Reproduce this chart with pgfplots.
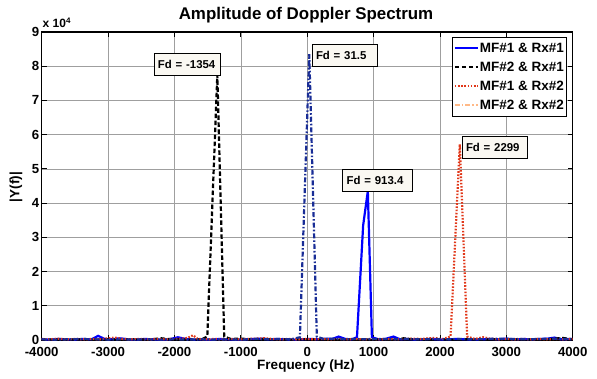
\documentclass[border=0pt]{standalone}
\usepackage{fontspec}
\setmainfont{Liberation Sans}
\usepackage{pgfplots}
\pgfplotsset{compat=1.18}
\definecolor{cblue}{RGB}{0,0,255}
\definecolor{cred}{RGB}{225,55,25}
\definecolor{cnavy}{RGB}{25,45,150}
\definecolor{corange}{RGB}{255,185,135}
\definecolor{tipfill}{RGB}{250,248,242}
\begin{document}
\begin{tikzpicture}
\path[use as bounding box] (-41.7pt,-38pt) rectangle (555.3pt,340pt);
\begin{axis}[
  at={(0pt,0pt)}, anchor=south west,
  scale only axis, width=531pt, height=308pt,
  xmin=-4000, xmax=4000, ymin=0, ymax=9,
  xtick={-4000,-3000,...,4000}, ytick={0,1,...,9},
  /pgf/number format/assume math mode=true,
  /pgf/number format/1000 sep={},
  ticklabel style={font=\bfseries\fontsize{13.2}{15}\selectfont},
  yticklabel style={inner sep=0pt, xshift=-2.2pt},
  xticklabel style={inner sep=0pt, yshift=-7pt},
  tick align=inside, major tick length=5pt,
  tick style={black, line width=0.8pt},
  axis line style={black, line width=1.2pt},
  grid=major, major grid style={gray!75, line width=0.6pt},
  clip=true,
  legend cell align=left,
  legend style={at={(0.989,0.984)}, anchor=north east, draw=black, line width=0.9pt,
    font=\bfseries\fontsize{13.5}{15}\selectfont, inner xsep=1.5pt, inner ysep=1.5pt,
    row sep=0pt, nodes={inner xsep=1pt, inner ysep=4pt}},
  legend image code/.code={\draw[#1] (0pt,0pt) -- (23pt,0pt);},
]
\addlegendimage{cblue, solid, line width=2.2pt}
\addlegendentry{MF\#1 \& Rx\#1}
\addlegendimage{black, dash pattern=on 4.5pt off 2.5pt, line width=2.2pt}
\addlegendentry{MF\#2 \& Rx\#1}
\addlegendimage{cred, dash pattern=on 1.6pt off 1.6pt, line width=2.2pt}
\addlegendentry{MF\#1 \& Rx\#2}
\addlegendimage{corange, dash pattern=on 5pt off 2pt on 1.6pt off 2pt, line width=2.2pt}
\addlegendentry{MF\#2 \& Rx\#2}

% MF#1 & Rx#1
\addplot[cblue, solid, line width=2.2pt, forget plot] coordinates {
(-4000,0.02)(-3875,0.01)(-3750,0.03)(-3625,0.02)(-3500,0.01)(-3375,0.03)(-3250,0.02)(-3150,0.12)(-3050,0.03)(-2950,0.02)(-2825,0.05)(-2700,0.02)(-2575,0.01)(-2450,0.03)(-2325,0.02)(-2200,0.01)(-2075,0.02)(-1950,0.08)(-1825,0.03)(-1700,0.01)(-1575,0.02)(-1450,0.01)(-1325,0.03)(-1200,0.02)(-1075,0.01)(-950,0.02)(-825,0.03)(-700,0.04)(-575,0.02)(-450,0.03)(-325,0.02)(-200,0.01)(-75,0.02)(50,0.03)(175,0.02)(300,0.04)(375,0.03)(475,0.1)(575,0.03)(675,0.02)(750,0.08)(843,3.35)(913.4,4.35)(975,0.08)(1075,0.02)(1175,0.03)(1300,0.1)(1400,0.02)(1500,0.03)(1625,0.01)(1750,0.02)(1875,0.03)(2000,0.01)(2125,0.02)(2250,0.03)(2375,0.02)(2500,0.01)(2625,0.02)(2750,0.03)(2875,0.02)(3000,0.04)(3125,0.02)(3250,0.03)(3375,0.02)(3500,0.03)(3625,0.04)(3725,0.07)(3825,0.02)(4000,0.03)
};
% MF#2 & Rx#1
\addplot[black, dash pattern=on 4.5pt off 2.5pt, line width=2.2pt, forget plot] coordinates {
(-4000,0.01)(-3800,0.02)(-3600,0.01)(-3400,0.02)(-3200,0.01)(-3000,0.02)(-2800,0.01)(-2600,0.02)(-2400,0.01)(-2200,0.05)(-2100,0.03)(-1900,0.02)(-1700,0.01)(-1580,0.03)(-1505,0.1)(-1354,7.75)(-1250,0.1)(-1150,0.03)(-1000,0.04)(-850,0.02)(-650,0.03)(-450,0.02)(-250,0.01)(-50,0.02)(150,0.01)(350,0.02)(550,0.01)(750,0.02)(950,0.01)(1150,0.02)(1350,0.01)(1450,0.05)(1600,0.02)(1800,0.01)(2000,0.02)(2200,0.01)(2400,0.02)(2600,0.01)(2800,0.02)(3000,0.01)(3200,0.02)(3400,0.01)(3600,0.02)(3850,0.06)(4000,0.02)
};
% MF#1 & Rx#2
\addplot[cred, dash pattern=on 1.6pt off 1.6pt, line width=2.2pt, forget plot] coordinates {
(-4000,0.03)(-3875,0.02)(-3750,0.04)(-3625,0.02)(-3500,0.03)(-3375,0.02)(-3250,0.03)(-3125,0.02)(-3000,0.05)(-2900,0.07)(-2775,0.03)(-2650,0.02)(-2525,0.03)(-2400,0.02)(-2275,0.03)(-2150,0.02)(-2025,0.03)(-1900,0.04)(-1800,0.06)(-1720,0.14)(-1650,0.03)(-1525,0.02)(-1400,0.03)(-1275,0.02)(-1150,0.03)(-1025,0.02)(-900,0.03)(-775,0.04)(-650,0.05)(-525,0.03)(-400,0.02)(-275,0.03)(-150,0.02)(-25,0.03)(100,0.02)(225,0.03)(350,0.02)(475,0.03)(600,0.02)(725,0.03)(850,0.02)(975,0.03)(1100,0.02)(1225,0.03)(1350,0.02)(1475,0.03)(1600,0.04)(1725,0.03)(1850,0.05)(1925,0.06)(2025,0.02)(2160,0.1)(2299,5.72)(2410,0.1)(2525,0.03)(2650,0.08)(2750,0.04)(2875,0.02)(3000,0.03)(3125,0.02)(3250,0.03)(3375,0.02)(3500,0.03)(3625,0.02)(3750,0.03)(3875,0.02)(4000,0.03)
};
% MF#2 & Rx#2
\addplot[cnavy, dash pattern=on 5pt off 2pt on 1.6pt off 2pt, line width=2.2pt, forget plot] coordinates {
(-4000,0.02)(-3800,0.01)(-3600,0.02)(-3400,0.03)(-3200,0.02)(-3000,0.01)(-2800,0.02)(-2600,0.01)(-2400,0.02)(-2200,0.01)(-2000,0.02)(-1800,0.01)(-1600,0.02)(-1400,0.01)(-1200,0.02)(-1000,0.01)(-800,0.03)(-600,0.02)(-400,0.03)(-250,0.02)(-110,0.08)(31.5,8.35)(145,0.1)(250,0.03)(400,0.04)(550,0.02)(700,0.03)(900,0.02)(1100,0.03)(1300,0.02)(1500,0.03)(1700,0.02)(1900,0.03)(2100,0.02)(2300,0.03)(2500,0.02)(2700,0.03)(2900,0.04)(3100,0.03)(3300,0.02)(3500,0.03)(3700,0.04)(3900,0.03)(4000,0.02)
};

\tikzset{tip/.style={draw=black, line width=0.7pt, fill=tipfill, font=\bfseries\fontsize{11.4}{13}\selectfont,
  align=left, inner xsep=4pt, inner ysep=0pt, minimum height=22pt}}
\node[tip, text width=58pt] at (axis cs:-1811,8.065) {Fd = -1354};
\node[tip, text width=57pt] at (axis cs:562,8.328) {Fd = 31.5};
\node[tip, text width=57pt] at (axis cs:2822,5.625) {Fd = 2299};
\node[tip, text width=62pt] at (axis cs:1062,4.661) {Fd = 913.4};
\end{axis}
\node[font=\bfseries\fontsize{16.9}{19}\selectfont] at (264.3pt,325pt) {Amplitude of Doppler Spectrum};
\node[font=\bfseries\fontsize{13.5}{15}\selectfont] at (264.3pt,-26pt) {Frequency (Hz)};
\node[font=\bfseries\fontsize{13.5}{15}\selectfont, rotate=90] at (-25.7pt,153pt) {|Y(f)|};
\node[font=\bfseries\fontsize{12}{14}\selectfont, anchor=base west, inner sep=0pt] at (0.8pt,312pt) {x 10\textsuperscript{4}};
\end{tikzpicture}
\end{document}
